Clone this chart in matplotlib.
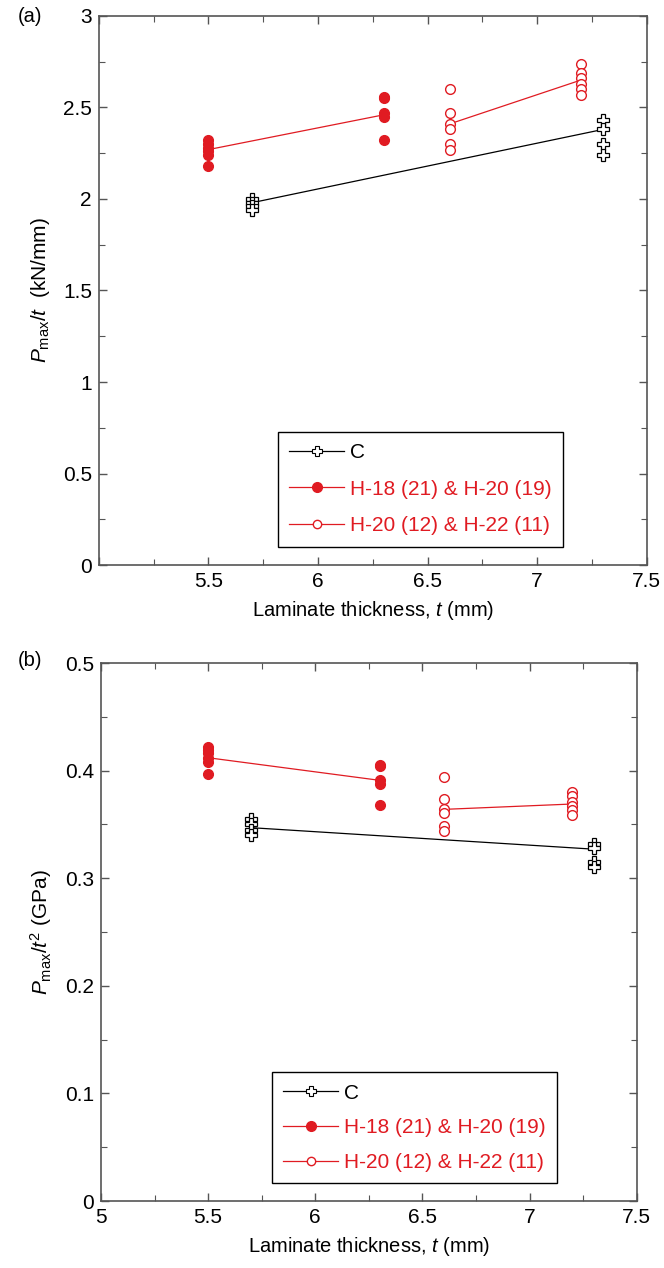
import matplotlib.pyplot as plt
from matplotlib.lines import Line2D
from matplotlib.ticker import MultipleLocator

# thickness of each laminate group (mm)
thick_c = [5.7, 7.3]
thick_h1 = [5.5, 6.3]
thick_h2 = [6.6, 7.2]

# (a) Pmax/t (kN/mm), individual specimens per group
a_c = [[2.00, 1.98, 1.96, 1.94], [2.43, 2.38, 2.30, 2.24]]
a_h1 = [[2.32, 2.30, 2.28, 2.26, 2.24, 2.18], [2.56, 2.55, 2.47, 2.45, 2.32]]
a_h2 = [[2.60, 2.47, 2.41, 2.38, 2.30, 2.27], [2.74, 2.69, 2.66, 2.63, 2.60, 2.57]]
a_c_mean = [1.98, 2.38]
a_h1_mean = [2.27, 2.46]
a_h2_mean = [2.41, 2.65]

# (b) Pmax/t^2 (GPa)
b_c = [[0.355, 0.350, 0.345, 0.340], [0.332, 0.328, 0.315, 0.310]]
b_h1 = [[0.422, 0.419, 0.416, 0.412, 0.408, 0.397], [0.405, 0.404, 0.391, 0.388, 0.368]]
b_h2 = [[0.394, 0.374, 0.364, 0.361, 0.349, 0.344], [0.380, 0.376, 0.371, 0.367, 0.363, 0.359]]
b_c_mean = [0.347, 0.327]
b_h1_mean = [0.412, 0.391]
b_h2_mean = [0.364, 0.369]

labels = ["C", "H-18 (21) & H-20 (19)", "H-20 (12) & H-22 (11)"]

plt.rcParams["font.family"] = ["Liberation Sans", "DejaVu Sans"]
plt.rcParams["mathtext.fontset"] = "custom"
plt.rcParams["mathtext.rm"] = "Liberation Sans"
plt.rcParams["mathtext.it"] = "Liberation Sans:italic"

red = "#e01b22"
spine = "#555555"

fig = plt.figure(figsize=(6.64, 12.68), dpi=100)
ax_a = fig.add_axes([0.149, 0.5544, 0.825, 0.433])
ax_b = fig.add_axes([0.152, 0.0528, 0.807, 0.4243])


def draw(ax, c, h1, h2, c_mean, h1_mean, h2_mean):
    # mean lines
    ax.plot(thick_c, c_mean, color="black", lw=0.9, zorder=2)
    ax.plot(thick_h1, h1_mean, color=red, lw=0.9, zorder=2)
    ax.plot(thick_h2, h2_mean, color=red, lw=0.9, zorder=2)
    # specimens
    for x, vals in zip(thick_h1, h1):
        ax.plot([x] * len(vals), vals, "o", ms=7, color=red, mec=red, ls="none", zorder=3)
    for x, vals in zip(thick_h2, h2):
        ax.plot([x] * len(vals), vals, "o", ms=7, mfc="white", mec=red, mew=1.0, ls="none", zorder=3)
    for x, vals in zip(thick_c, c):
        ax.plot([x] * len(vals), vals, "P", ms=8, mfc="white", mec="black", mew=0.9, ls="none", zorder=4)

    for s in ax.spines.values():
        s.set_color(spine)
        s.set_linewidth(1.2)
    ax.tick_params(which="both", direction="in", top=True, right=True, color=spine,
                   labelsize=15, pad=5)
    ax.tick_params(which="major", length=6, width=1)
    ax.tick_params(which="minor", length=4, width=0.8)
    ax.set_xlim(5, 7.5)
    ax.xaxis.set_major_locator(MultipleLocator(0.5))
    ax.xaxis.set_minor_locator(MultipleLocator(0.25))
    ax.set_xlabel("Laminate thickness, $t$ (mm)", fontsize=14.5, labelpad=6)

    handles = [
        Line2D([], [], color="black", lw=0.9, marker="P", ms=7, mfc="white", mec="black", mew=0.8),
        Line2D([], [], color=red, lw=0.9, marker="o", ms=7, mfc=red, mec=red),
        Line2D([], [], color=red, lw=0.9, marker="o", ms=6, mfc="white", mec=red, mew=1.0),
    ]
    return handles


h = draw(ax_a, a_c, a_h1, a_h2, a_c_mean, a_h1_mean, a_h2_mean)
ax_a.set_ylim(0, 3)
ax_a.yaxis.set_major_locator(MultipleLocator(0.5))
ax_a.yaxis.set_minor_locator(MultipleLocator(0.25))
ax_a.set_xticks([5, 5.5, 6, 6.5, 7, 7.5])
ax_a.set_xticklabels(["", "5.5", "6", "6.5", "7", "7.5"])
ax_a.yaxis.set_major_formatter(plt.FuncFormatter(lambda v, p: f"{v:g}"))
ax_a.set_ylabel(r"$P_{\rm max}/t$  (kN/mm)", fontsize=15, labelpad=8)
leg = ax_a.legend(h, labels, loc="lower right", bbox_to_anchor=(0.847, 0.033), fontsize=15,
                  labelcolor=["black", red, red], fancybox=False, edgecolor="black",
                  framealpha=1, handlelength=2.6, handletextpad=0.3, labelspacing=0.85,
                  borderpad=0.55, borderaxespad=0)
leg.get_frame().set_linewidth(1.0)

h = draw(ax_b, b_c, b_h1, b_h2, b_c_mean, b_h1_mean, b_h2_mean)
ax_b.set_ylim(0, 0.5)
ax_b.yaxis.set_major_locator(MultipleLocator(0.1))
ax_b.yaxis.set_minor_locator(MultipleLocator(0.05))
ax_b.xaxis.set_major_formatter(plt.FuncFormatter(lambda v, p: f"{v:g}"))
ax_b.yaxis.set_major_formatter(plt.FuncFormatter(lambda v, p: f"{v:g}"))
ax_b.set_ylabel(r"$P_{\rm max}/t^2$ (GPa)", fontsize=15, labelpad=8)
leg = ax_b.legend(h, labels, loc="lower right", bbox_to_anchor=(0.851, 0.033), fontsize=15,
                  labelcolor=["black", red, red], fancybox=False, edgecolor="black",
                  framealpha=1, handlelength=2.6, handletextpad=0.3, labelspacing=0.75,
                  borderpad=0.55, borderaxespad=0)
leg.get_frame().set_linewidth(1.0)

fig.text(30 / 664, 1 - 16 / 1268, "(a)", fontsize=14.5, ha="center", va="center")
fig.text(30 / 664, 1 - 660 / 1268, "(b)", fontsize=14.5, ha="center", va="center")

fig.savefig("out.png", dpi=100)
